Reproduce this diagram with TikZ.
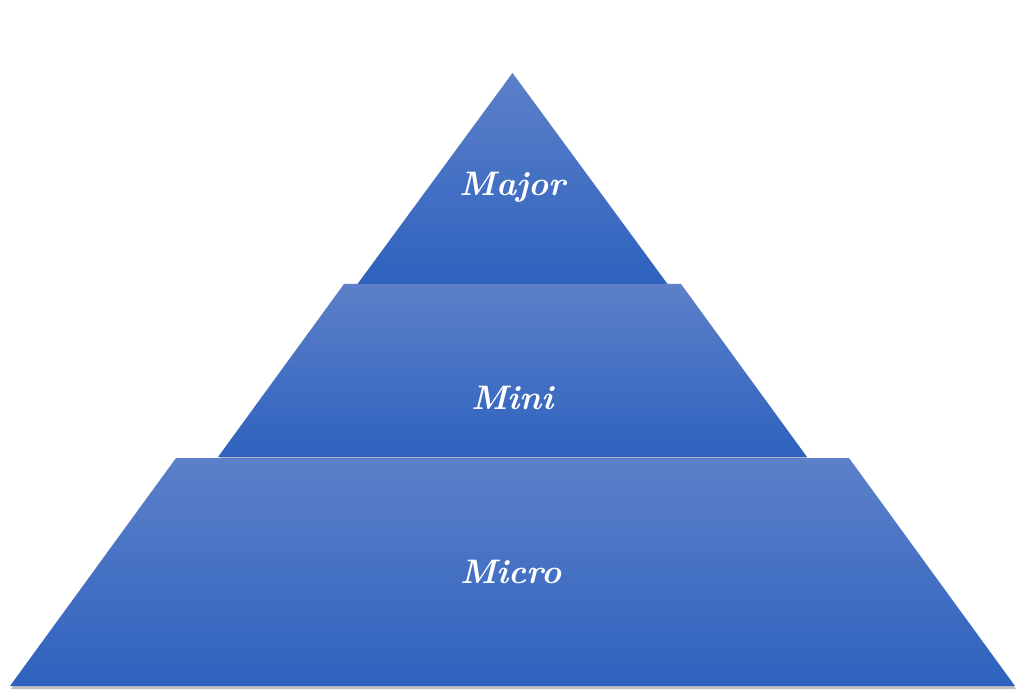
\documentclass[tikz,border=0pt]{standalone}
\usetikzlibrary{positioning}
\definecolor{layertop}{RGB}{92,128,201}
\definecolor{layerbot}{RGB}{46,98,190}
\tikzset{
  layer/.style={top color=layertop, bottom color=layerbot, draw=none},
  layershadow/.style={fill=black, opacity=0.25},
  label/.style={text=white, font=\bfseries\itshape\fontsize{34}{40}\selectfont, inner sep=0pt}
}
\begin{document}
\begin{tikzpicture}[x=1pt,y=1pt]

	\useasboundingbox (0, 0) rectangle (1024, 699);

	% corners of the three layers
	\coordinate (apex) at (512.5, 626);
	\coordinate (t1) at (357.5, 415);
	\coordinate (t2) at (667.5, 415);
	\coordinate (m0) at (344, 415);
	\coordinate (m1) at (681, 415);
	\coordinate (m2) at (807, 242);
	\coordinate (m3) at (218, 242);
	\coordinate (b0) at (176, 241);
	\coordinate (b1) at (849, 241);
	\coordinate (b2) at (1015, 13);
	\coordinate (b3) at (10, 13);

	% top
	\fill[layershadow] ([shift={(1,-2)}]apex) -- ([shift={(1,-2)}]t2) -- ([shift={(1,-2)}]t1) -- cycle;
	\path[layer] (apex) -- (t2) -- (t1) -- cycle;

	% middle
	\fill[layershadow] ([shift={(1,-2)}]m0) -- ([shift={(1,-2)}]m1) -- ([shift={(1,-2)}]m2) -- ([shift={(1,-2)}]m3) -- cycle;
	\path[layer] (m0) -- (m1) -- (m2) -- (m3) -- cycle;

	% bottom
	\fill[layershadow] ([shift={(1,-3)}]b0) -- ([shift={(1,-3)}]b1) -- ([shift={(1,-3)}]b2) -- ([shift={(1,-3)}]b3) -- cycle;
	\path[layer] (b0) -- (b1) -- (b2) -- (b3) -- cycle;

	\node (major) [label] at (512.5, 512) {Major};
	\node (mini) [label] at (512.5, 301) {Mini};
	\node (micro) [label] at (511, 127) {Micro};

\end{tikzpicture}
\end{document}
